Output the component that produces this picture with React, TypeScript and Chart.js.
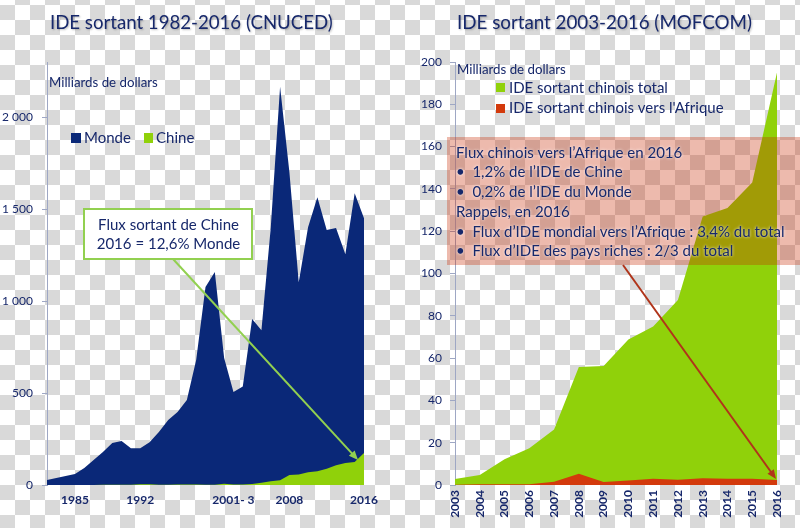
import React, { useEffect, useRef } from 'react';
import { Chart, registerables } from 'chart.js';
Chart.register(...registerables);

// ---------- data: left chart (CNUCED) ----------
const worldYears = [
  '1982','1983','1984','1985','1986','1987','1988','1989','1990','1991','1992','1993',
  '1994','1995','1996','1997','1998','1999','2000','2001','2002','2003','2004','2005',
  '2006','2007','2008','2009','2010','2011','2012','2013','2014','2015','2016',
];
const mondeValues = [
  27, 38, 49, 60, 92, 136, 180, 228, 239, 200, 200, 233,
  288, 353, 397, 462, 680, 1076, 1158, 690, 505, 535, 902, 842,
  1400, 2165, 1700, 1103, 1402, 1565, 1386, 1397, 1255, 1587, 1451,
];
const chineValues = [
  0.1, 0.1, 0.1, 0.6, 0.5, 0.6, 0.9, 0.8, 0.8, 0.9, 4, 4.4,
  2, 2, 2.1, 2.6, 2.6, 1.8, 0.9, 6.9, 2.5, 2.9, 5.5, 12,
  21, 26, 54, 57, 69, 75, 88, 108, 120, 125, 174,
];
const worldTickYears = ['1985', '1992', '2002', '2008', '2016'];
const worldTickLabels = ['1985', '1992', '2001- 3', '2008', '2016'];
const worldYTicks = [0, 500, 1000, 1500, 2000];

// ---------- data: right chart (MOFCOM) ----------
const mofcomYears = ['2003','2004','2005','2006','2007','2008','2009','2010','2011','2012','2013','2014','2015','2016'];
const chinaTotal = [2.8, 4.7, 12.2, 17.4, 26.3, 55.8, 56.3, 68.8, 75, 87.5, 127, 131, 143, 195];
const chinaAfrica = [0.1, 0.3, 0.4, 0.4, 1.5, 5.3, 1.4, 2.1, 3.0, 2.5, 3.2, 3.0, 2.9, 2.4];

const boxLines = [
  'Flux chinois vers l’Afrique en 2016',
  '•  1,2% de l’IDE de Chine',
  '•  0,2% de l’IDE du Monde',
  'Rappels, en 2016',
  '•  Flux d’IDE mondial vers l’Afrique : 3,4% du total',
  '•  Flux d’IDE des pays riches : 2/3 du total',
];

const FONT = 'Lato, "Open Sans", sans-serif';
const NAVY_TEXT = '#17286b';
const NAVY = '#0a2878';
const GREEN = '#90d10a';
const RED = '#d33a0c';
const AXIS = '#9ea7c4';

function fitSize(ctx: CanvasRenderingContext2D, text: string, target: number, weight = 'normal') {
  ctx.font = `${weight} 20px ${FONT}`;
  const w = ctx.measureText(text).width;
  return (20 * target) / w;
}

function drawText(ctx: CanvasRenderingContext2D, text: string, x: number, y: number, size: number, opts: any = {}) {
  ctx.save();
  ctx.font = `${opts.weight || 'normal'} ${size}px ${FONT}`;
  ctx.fillStyle = opts.color || NAVY_TEXT;
  ctx.textAlign = opts.align || 'left';
  ctx.textBaseline = 'middle';
  if (opts.glow) {
    ctx.shadowColor = 'rgba(255,255,255,0.95)';
    ctx.shadowBlur = 3;
  }
  if (opts.shadow) {
    ctx.shadowColor = 'rgba(0,0,0,0.25)';
    ctx.shadowBlur = 2;
    ctx.shadowOffsetX = 1;
    ctx.shadowOffsetY = 1;
  }
  ctx.fillText(text, x, y);
  ctx.restore();
}

function arrow(ctx: CanvasRenderingContext2D, x1: number, y1: number, x2: number, y2: number, color: string, width: number, head: number) {
  const ang = Math.atan2(y2 - y1, x2 - x1);
  ctx.save();
  ctx.strokeStyle = color;
  ctx.fillStyle = color;
  ctx.lineWidth = width;
  ctx.beginPath();
  ctx.moveTo(x1, y1);
  ctx.lineTo(x2 - Math.cos(ang) * head * 0.8, y2 - Math.sin(ang) * head * 0.8);
  ctx.stroke();
  ctx.beginPath();
  ctx.moveTo(x2, y2);
  ctx.lineTo(x2 - head * Math.cos(ang - 0.4), y2 - head * Math.sin(ang - 0.4));
  ctx.lineTo(x2 - head * Math.cos(ang + 0.4), y2 - head * Math.sin(ang + 0.4));
  ctx.closePath();
  ctx.fill();
  ctx.restore();
}

const leftAnnot = {
  id: 'leftAnnot',
  afterDraw(chart: any) {
    const ctx: CanvasRenderingContext2D = chart.ctx;
    const t1 = 'IDE sortant 1982-2016 (CNUCED)';
    drawText(ctx, t1, 50, 23, fitSize(ctx, t1, 283), { shadow: true });
    const m = 'Milliards de dollars';
    drawText(ctx, m, 49, 83, fitSize(ctx, m, 109));
    // legend
    const ls = fitSize(ctx, 'Monde', 47);
    ctx.fillStyle = NAVY;
    ctx.fillRect(71, 133, 10, 10);
    drawText(ctx, 'Monde', 84, 138, ls);
    ctx.fillStyle = GREEN;
    ctx.fillRect(144, 133, 9, 10);
    drawText(ctx, 'Chine', 156, 138, ls);
    // callout
    arrow(ctx, 173, 259, 358, 460, '#92d050', 2, 10);
    ctx.save();
    ctx.fillStyle = '#ffffff';
    ctx.fillRect(84, 209, 168, 50);
    ctx.strokeStyle = '#92d050';
    ctx.lineWidth = 2;
    ctx.strokeRect(84, 209, 168, 50);
    ctx.restore();
    const c1 = 'Flux sortant de Chine';
    const cs = fitSize(ctx, c1, 141);
    drawText(ctx, c1, 168.5, 225, cs, { align: 'center' });
    drawText(ctx, '2016 = 12,6% Monde', 168.5, 244, cs, { align: 'center' });
  },
};

const rightAnnot = {
  id: 'rightAnnot',
  afterDraw(chart: any) {
    const ctx: CanvasRenderingContext2D = chart.ctx;
    const t2 = 'IDE sortant 2003-2016 (MOFCOM)';
    drawText(ctx, t2, 57, 23, fitSize(ctx, t2, 295), { shadow: true });
    const m = 'Milliards de dollars';
    drawText(ctx, m, 57, 70, fitSize(ctx, m, 109));
    const l1 = 'IDE sortant chinois total';
    const ls = fitSize(ctx, l1, 159);
    ctx.fillStyle = GREEN;
    ctx.fillRect(96, 83, 9, 9);
    drawText(ctx, l1, 109, 88, ls);
    ctx.fillStyle = RED;
    ctx.fillRect(96, 104, 9, 9);
    drawText(ctx, 'IDE sortant chinois vers l\'Afrique', 109, 108, ls);
    // salmon box
    ctx.save();
    ctx.fillStyle = 'rgba(200, 40, 0, 0.32)';
    ctx.fillRect(47, 137, 353, 128);
    ctx.restore();
    const bs = fitSize(ctx, boxLines[4], 329);
    const ys = [153, 172, 192, 212, 232, 251];
    boxLines.forEach((s, i) => drawText(ctx, s, 56, ys[i], bs, { glow: true }));
    arrow(ctx, 223, 265, 376, 479, '#b0341a', 2, 10);
  },
};

const yTickFont = { family: FONT, size: 12 };
const xTickFont = { family: FONT, size: 12, weight: 'bold' };

export default function App() {
  const leftRef = useRef<HTMLCanvasElement>(null);
  const rightRef = useRef<HTMLCanvasElement>(null);

  useEffect(() => {
    const left = new Chart(leftRef.current!, {
      type: 'line',
      data: {
        labels: worldYears,
        datasets: [
          { label: 'Chine', data: chineValues, fill: 'origin', backgroundColor: GREEN, borderColor: 'transparent', borderWidth: 0, pointRadius: 0, tension: 0 },
          { label: 'Monde', data: mondeValues, fill: 'origin', backgroundColor: NAVY, borderColor: 'transparent', borderWidth: 0, pointRadius: 0, tension: 0 },
        ],
      },
      options: {
        animation: false,
        responsive: false,
        maintainAspectRatio: false,
        layout: { padding: { top: 62, right: 36, left: 0, bottom: 0 } },
        plugins: { legend: { display: false }, tooltip: { enabled: false }, title: { display: false } },
        scales: {
          x: {
            offset: false,
            grid: { display: false, drawTicks: false },
            border: { display: false },
            ticks: {
              autoSkip: false, maxRotation: 0, minRotation: 0, padding: 8,
              font: xTickFont, color: NAVY_TEXT,
              callback: (_v: any, i: number) => {
                const k = worldTickYears.indexOf(worldYears[i]);
                return k >= 0 ? worldTickLabels[k] : '';
              },
            },
            afterFit: (s: any) => { s.height = 43; },
          },
          y: {
            type: 'linear',
            position: 'left',
            min: 0, max: 2300,
            afterBuildTicks: (s: any) => { s.ticks = worldYTicks.map((v) => ({ value: v })); },
            ticks: {
              padding: 9, font: yTickFont, color: NAVY_TEXT, autoSkip: false,
              callback: (v: any) => (v >= 1000 ? `${Math.floor(v / 1000)} ${String(v % 1000).padStart(3, '0')}` : String(v)),
            },
            grid: { drawOnChartArea: false, drawTicks: true, tickLength: 5, color: AXIS },
            border: { display: true, color: AXIS, width: 1 },
            afterFit: (s: any) => { s.width = 47; },
          },
        },
      },
      plugins: [leftAnnot],
    } as any);

    const right = new Chart(rightRef.current!, {
      type: 'line',
      data: {
        labels: mofcomYears,
        datasets: [
          { label: "IDE sortant chinois vers l'Afrique", data: chinaAfrica, fill: 'origin', backgroundColor: RED, borderColor: 'transparent', borderWidth: 0, pointRadius: 0, tension: 0 },
          { label: 'IDE sortant chinois total', data: chinaTotal, fill: 'origin', backgroundColor: GREEN, borderColor: 'transparent', borderWidth: 0, pointRadius: 0, tension: 0 },
        ],
      },
      options: {
        animation: false,
        responsive: false,
        maintainAspectRatio: false,
        layout: { padding: { top: 62, right: 23, left: 0, bottom: 0 } },
        plugins: { legend: { display: false }, tooltip: { enabled: false }, title: { display: false } },
        scales: {
          x: {
            offset: false,
            grid: { display: false, drawTicks: false },
            border: { display: false },
            ticks: { autoSkip: false, maxRotation: 90, minRotation: 90, padding: 5, font: xTickFont, color: NAVY_TEXT },
            afterFit: (s: any) => { s.height = 43; },
          },
          y: {
            min: 0, max: 200,
            ticks: { stepSize: 20, padding: 8, font: yTickFont, color: NAVY_TEXT },
            grid: { drawOnChartArea: false, drawTicks: true, tickLength: 5, color: AXIS },
            border: { display: true, color: AXIS, width: 1 },
            afterFit: (s: any) => { s.width = 55; },
          },
        },
      },
      plugins: [rightAnnot],
    } as any);

    return () => { left.destroy(); right.destroy(); };
  }, []);

  return (
    <div
      style={{
        position: 'fixed', left: 0, top: 0, width: 800, height: 528, overflow: 'hidden',
        backgroundColor: '#ffffff',
        backgroundImage: 'conic-gradient(#d9d9d9 25%, transparent 0 50%, #d9d9d9 0 75%, transparent 0)',
        backgroundSize: '30px 30px',
        backgroundPosition: '0px -10px',
      }}
    >
      <canvas ref={leftRef} width={400} height={528} style={{ position: 'absolute', left: 0, top: 0, width: 400, height: 528 }} />
      <canvas ref={rightRef} width={400} height={528} style={{ position: 'absolute', left: 400, top: 0, width: 400, height: 528 }} />
    </div>
  );
}
